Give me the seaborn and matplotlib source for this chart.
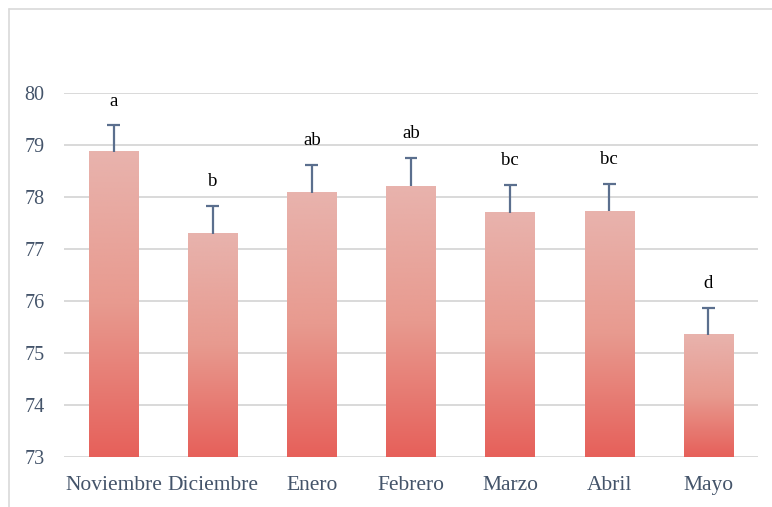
import numpy as np
import pandas as pd
import matplotlib
matplotlib.use("Agg")
import matplotlib.pyplot as plt
from matplotlib.colors import LinearSegmentedColormap
from matplotlib.lines import Line2D
import seaborn as sns

# Monthly means, standard errors and significance groups
meses = ["Noviembre", "Diciembre", "Enero", "Febrero", "Marzo", "Abril", "Mayo"]
medias = [78.87, 77.29, 78.08, 78.21, 77.70, 77.73, 75.35]
errores = [0.51, 0.54, 0.54, 0.54, 0.54, 0.52, 0.52]
letras = ["a", "b", "ab", "ab", "bc", "bc", "d"]
yticks = [73, 74, 75, 76, 77, 78, 79, 80]

sns.set_theme(style="white")
plt.rcParams["font.family"] = ["Liberation Serif", "DejaVu Serif"]

df = pd.DataFrame({"mes": meses, "media": medias})

fig = plt.figure(figsize=(7.72, 5.07), dpi=100)
ax = fig.add_axes([64 / 772, 1 - 457 / 507, (758 - 64) / 772, (457 - 93) / 507])

sns.barplot(data=df, x="mes", y="media", width=0.5, color="#E8A098",
            errorbar=None, ax=ax, zorder=2)

ymin, ymax = 73, 80
ax.set_ylim(ymin, ymax)
ax.set_xlim(-0.5, len(meses) - 0.5)
ax.set_yticks(yticks)
ax.yaxis.grid(True, color="#D9D9D9", linewidth=1.4, zorder=0)
ax.xaxis.grid(False)
ax.set_axisbelow(True)
for s in ax.spines.values():
    s.set_visible(False)

# Vertical gradient fill for each bar (red at the base, pale pink at the top)
grad = LinearSegmentedColormap.from_list(
    "barra", [(0.0, "#E6605A"), (0.5, "#E89A8F"), (1.0, "#E8B3AD")])
g = np.linspace(0, 1, 256).reshape(-1, 1)
for p in ax.patches:
    x0, w, h = p.get_x(), p.get_width(), p.get_height()
    p.set_visible(False)
    ax.imshow(g, cmap=grad, origin="lower", aspect="auto",
              extent=[x0, x0 + w, ymin, h], zorder=2,
              interpolation="bilinear")

ax.set_xlim(-0.5, len(meses) - 0.5)
ax.set_ylim(ymin, ymax)

# Upper error bars (whisker + top cap only)
xpos = np.arange(len(meses))
tops = np.array(medias) + np.array(errores)
ax.vlines(xpos, medias, tops, color="#5B6F8E", lw=1.6, zorder=3)
ax.hlines(tops, xpos - 0.065, xpos + 0.065, color="#5B6F8E", lw=1.6, zorder=3)

# Significance letters above each error bar
for x, t_, t in zip(xpos, tops, letras):
    ax.text(x, t_ + 0.3, t, ha="center", va="bottom", fontsize=13.5,
            color="black")

ax.set_xlabel("")
ax.set_ylabel("")
ax.tick_params(axis="both", length=0, labelcolor="#44546A")
ax.tick_params(axis="y", pad=14, labelsize=14.5)
ax.tick_params(axis="x", pad=13.5, labelsize=15.5)

# Light chart-area frame
fig.add_artist(Line2D([9 / 772, 9 / 772], [0, 1 - 8.5 / 507],
                      transform=fig.transFigure, color="#D9D9D9", lw=1.2))
fig.add_artist(Line2D([9 / 772, 1], [1 - 8.5 / 507, 1 - 8.5 / 507],
                      transform=fig.transFigure, color="#D9D9D9", lw=1.2))

fig.savefig("out.png", dpi=100)
